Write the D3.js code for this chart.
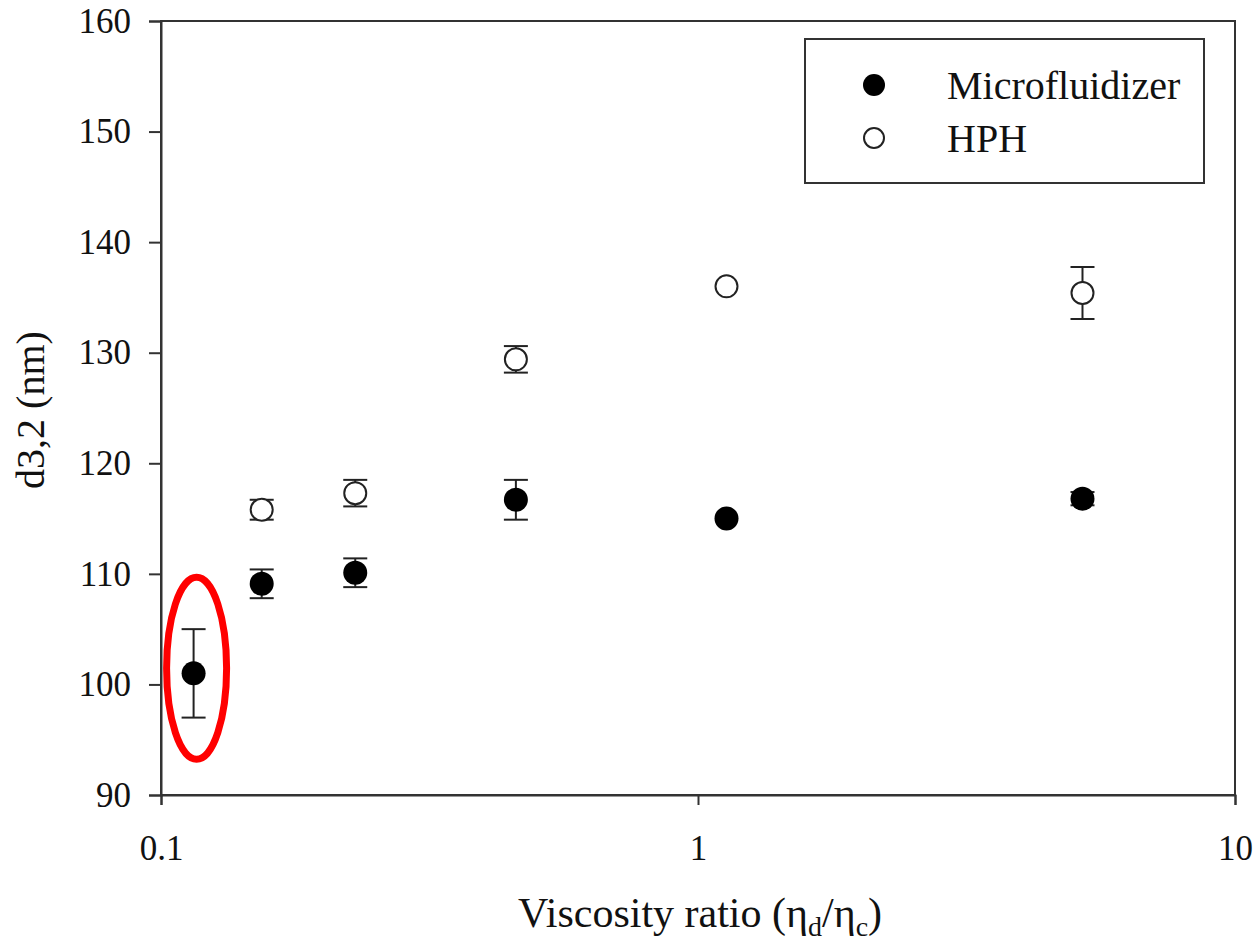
<!DOCTYPE html>
<html>
<head>
<meta charset="utf-8">
<script src="https://cdn.jsdelivr.net/npm/d3@7"></script>
<style>
  body { margin: 0; background: #fff; }
  svg text { font-family: 'Liberation Serif', 'DejaVu Serif', serif; }
</style>
</head>
<body>
<div id="container"></div>
<script>
// data
var microRatio = [0.115, 0.154, 0.230, 0.458, 1.13, 5.2];
var microD32   = [101.0, 109.1, 110.1, 116.7, 115.0, 116.8];
var microErr   = [4.0, 1.3, 1.3, 1.8, 0, 0.6];

var hphRatio = [0.154, 0.230, 0.458, 1.13, 5.2];
var hphD32   = [115.8, 117.3, 129.4, 136.0, 135.4];
var hphErr   = [0.9, 1.2, 1.2, 0, 2.35];

var xTicks = [0.1, 1, 10];
var yTicks = [90, 100, 110, 120, 130, 140, 150, 160];
var seriesNames = ["Microfluidizer", "HPH"];

var FONT = "'Liberation Serif', 'DejaVu Serif', serif";

var W = 1254, H = 947;
var margin = {top: 21, right: 19, bottom: 152, left: 161},
  width = W - margin.left - margin.right,
  height = H - margin.top - margin.bottom;

var svg = d3.select("#container")
    .append("svg")
    .attr("width", W)
    .attr("height", H)
    .attr("font-family", FONT);

var g = svg.append("g")
    .attr("transform", "translate(" + margin.left + "," + margin.top + ")");

var x = d3.scaleLog().domain([0.1, 10]).range([0, width]);
var y = d3.scaleLinear().domain([90, 160]).range([height, 0]);

// frame
g.append("rect")
    .attr("width", width)
    .attr("height", height)
    .attr("fill", "none")
    .attr("stroke", "#333")
    .attr("stroke-width", 2);

// axes
var yAxis = g.append("g")
    .call(d3.axisLeft(y).tickValues(yTicks).tickSize(12).tickPadding(18).tickFormat(d3.format("d")));
var xAxis = g.append("g")
    .attr("transform", "translate(0," + height + ")")
    .call(d3.axisBottom(x).tickValues(xTicks).tickSize(10).tickPadding(30).tickFormat(function(d) { return d; }));

[xAxis, yAxis].forEach(function(a) {
    a.attr("font-family", FONT).attr("font-size", 35);
    a.select(".domain").attr("stroke", "#333").attr("stroke-width", 2);
    a.selectAll(".tick line").attr("stroke", "#333").attr("stroke-width", 2);
    a.selectAll(".tick text").attr("fill", "#111");
});

// error bars
function errorBars(xs, ys, es) {
    var d = xs.map(function(v, i) { return {x: v, y: ys[i], e: es[i]}; })
        .filter(function(p) { return p.e > 0; });
    var eg = g.append("g").attr("stroke", "#222").attr("stroke-width", 2);
    eg.selectAll(".stem").data(d).enter().append("line")
        .attr("x1", function(p) { return x(p.x); })
        .attr("x2", function(p) { return x(p.x); })
        .attr("y1", function(p) { return y(p.y + p.e); })
        .attr("y2", function(p) { return y(p.y - p.e); });
    [1, -1].forEach(function(s) {
        eg.selectAll(".cap" + s).data(d).enter().append("line")
            .attr("x1", function(p) { return x(p.x) - 12; })
            .attr("x2", function(p) { return x(p.x) + 12; })
            .attr("y1", function(p) { return y(p.y + s * p.e); })
            .attr("y2", function(p) { return y(p.y + s * p.e); });
    });
}
errorBars(microRatio, microD32, microErr);
errorBars(hphRatio, hphD32, hphErr);

// points
g.selectAll(".micro")
    .data(microRatio)
    .enter()
    .append("circle")
    .attr("cx", function(d) { return x(d); })
    .attr("cy", function(d, i) { return y(microD32[i]); })
    .attr("r", 12)
    .attr("fill", "#000");

g.selectAll(".hph")
    .data(hphRatio)
    .enter()
    .append("circle")
    .attr("cx", function(d) { return x(d); })
    .attr("cy", function(d, i) { return y(hphD32[i]); })
    .attr("r", 11)
    .attr("fill", "#fff")
    .attr("stroke", "#222")
    .attr("stroke-width", 2);

// red ellipse round the first point
g.append("ellipse")
    .attr("cx", x(microRatio[0]) + 3)
    .attr("cy", y(microD32[0]) - 5)
    .attr("rx", 30)
    .attr("ry", 91)
    .attr("fill", "none")
    .attr("stroke", "#f00")
    .attr("stroke-width", 7);

// legend
var legend = svg.append("g");
legend.append("rect")
    .attr("x", 805).attr("y", 39)
    .attr("width", 399).attr("height", 144)
    .attr("fill", "#fff")
    .attr("stroke", "#333")
    .attr("stroke-width", 2);
seriesNames.forEach(function(name, i) {
    var cy = 85 + i * 53;
    legend.append("circle")
        .attr("cx", 874).attr("cy", cy)
        .attr("r", i === 0 ? 11 : 10)
        .attr("fill", i === 0 ? "#000" : "#fff")
        .attr("stroke", "#222")
        .attr("stroke-width", i === 0 ? 0 : 2);
    legend.append("text")
        .attr("x", 947).attr("y", cy + 14)
        .attr("font-size", 40)
        .attr("fill", "#111")
        .text(name);
});

// axis titles
svg.append("text")
    .attr("transform", "translate(44," + 410 + ") rotate(-90)")
    .attr("text-anchor", "middle")
    .attr("font-size", 40)
    .attr("fill", "#111")
    .text("d3,2 (nm)");

var xt = svg.append("text")
    .attr("x", 700)
    .attr("y", 927)
    .attr("text-anchor", "middle")
    .attr("font-size", 42)
    .attr("fill", "#111");
xt.append("tspan").text("Viscosity ratio (\u03b7");
xt.append("tspan").attr("dy", 9).attr("font-size", 28).text("d");
xt.append("tspan").attr("dy", -9).text("/\u03b7");
xt.append("tspan").attr("dy", 9).attr("font-size", 28).text("c");
xt.append("tspan").attr("dy", -9).text(")");
</script>
</body>
</html>
